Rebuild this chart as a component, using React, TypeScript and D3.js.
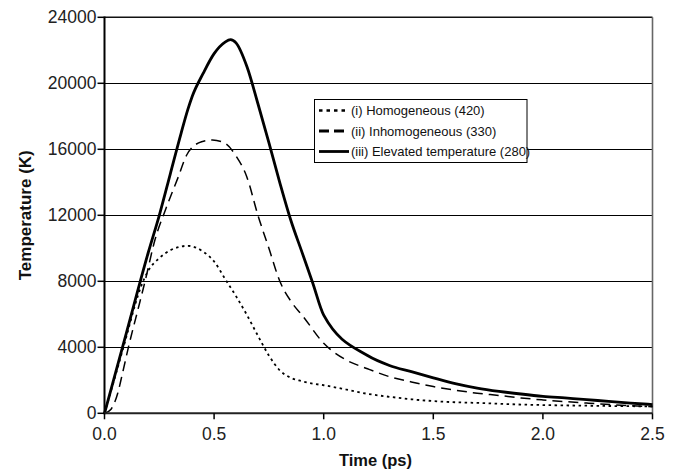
import React from "react";
import * as d3 from "d3";

const yTicks = [0, 4000, 8000, 12000, 16000, 20000, 24000];
const xTicks = [0, 0.5, 1.0, 1.5, 2.0, 2.5];

const homTime = [0, 0.05, 0.1, 0.14, 0.17, 0.2, 0.25, 0.3, 0.38, 0.45, 0.5, 0.55, 0.6, 0.65, 0.7, 0.75, 0.8, 0.85, 0.9, 0.95, 1.0, 1.1, 1.2, 1.3, 1.4, 1.5, 1.6, 1.7, 1.8, 1.9, 2.0, 2.2, 2.4, 2.5];
const homTemp = [0, 2300, 4650, 6600, 7800, 8650, 9400, 9880, 10150, 9800, 9200, 8150, 7100, 5950, 4700, 3500, 2600, 2150, 1950, 1800, 1700, 1450, 1180, 1000, 850, 740, 670, 630, 580, 530, 500, 460, 430, 420];

const inhTime = [0, 0.03, 0.06, 0.08, 0.109, 0.15, 0.185, 0.23, 0.28, 0.337, 0.375, 0.443, 0.492, 0.55, 0.6, 0.649, 0.7, 0.75, 0.8, 0.85, 0.907, 1.0, 1.1, 1.2, 1.3, 1.4, 1.5, 1.6, 1.7, 1.8, 1.9, 2.0, 2.2, 2.4, 2.5];
const inhTemp = [0, 250, 1200, 2300, 4000, 6150, 8000, 10500, 12400, 14340, 15655, 16460, 16565, 16364, 15600, 14340, 12000, 10000, 8000, 6800, 5855, 4242, 3250, 2700, 2220, 1900, 1620, 1400, 1220, 1080, 930, 810, 620, 460, 400];

const eleTime = [0, 0.1, 0.2, 0.25, 0.3, 0.35, 0.38, 0.4, 0.45, 0.5, 0.55, 0.575, 0.6, 0.65, 0.7, 0.75, 0.8, 0.85, 0.9, 0.95, 1.0, 1.2, 1.3, 1.4, 1.5, 1.6, 1.7, 1.8, 1.9, 2.0, 2.1, 2.2, 2.3, 2.4, 2.5];
const eleTemp = [0, 4880, 9760, 12000, 14500, 17000, 18400, 19200, 20600, 21800, 22500, 22650, 22450, 21000, 18760, 16400, 13970, 11700, 9800, 7900, 5950, 3500, 2900, 2520, 2150, 1800, 1530, 1330, 1170, 1030, 930, 830, 720, 620, 530];

const seriesNames = ["(i) Homogeneous (420)", "(ii) Inhomogeneous (330)", "(iii) Elevated temperature (280)"];

const W = 675;
const H = 471;
const L = 104.5;
const R = 652.5;
const T = 17.3;
const B = 413.3;

export default function App() {
  const x = d3.scaleLinear().domain([0, 2.5]).range([L, R]);
  const y = d3.scaleLinear().domain([0, 24000]).range([B, T]);
  const line = d3
    .line<[number, number]>()
    .x((d) => x(d[0]))
    .y((d) => y(d[1]))
    .curve(d3.curveMonotoneX);

  const series = [
    { name: seriesNames[0], pts: homTime.map((t, i) => [t, homTemp[i]] as [number, number]), dash: "2.5,3.5", w: 1.8, lw: 2.6, ldash: "3.5,4" },
    { name: seriesNames[1], pts: inhTime.map((t, i) => [t, inhTemp[i]] as [number, number]), dash: "10,6", w: 1.5, lw: 2.8, ldash: "10,5" },
    { name: seriesNames[2], pts: eleTime.map((t, i) => [t, eleTemp[i]] as [number, number]), dash: "none", w: 2.8, lw: 2.8, ldash: "none" },
  ];

  const font = "'Liberation Sans', Arial, sans-serif";
  const legX = 314.5;
  const legY = 99.5;
  const legW = 212.5;
  const legH = 63;

  return (
    <svg width={W} height={H} style={{ position: "absolute", left: 0, top: 0, background: "#fff" }} fontFamily={font}>
      <rect x={0} y={0} width={W} height={H} fill="#fff" />
      {yTicks.slice(1, -1).map((v) => (
        <line key={v} x1={L} x2={R} y1={Math.round(y(v)) + 0.5} y2={Math.round(y(v)) + 0.5} stroke="#000" strokeWidth={1} />
      ))}
      <line x1={L} x2={R} y1={y(24000)} y2={y(24000)} stroke="#111" strokeWidth={1.6} />
      <line x1={R} x2={R} y1={T} y2={B} stroke="#666" strokeWidth={1.6} />
      {series.map((s) => (
        <path key={s.name} d={line(s.pts) || ""} fill="none" stroke="#000" strokeWidth={s.w} strokeDasharray={s.dash} strokeLinejoin="round" />
      ))}
      <line x1={L} x2={L} y1={T - 0.8} y2={B + 1} stroke="#000" strokeWidth={2} />
      <line x1={L - 1} x2={R} y1={B} y2={B} stroke="#222" strokeWidth={2} />
      {yTicks.map((v) => (
        <g key={v}>
          <line x1={L - 7} x2={L} y1={y(v)} y2={y(v)} stroke="#000" strokeWidth={1.5} />
          <text x={L - 8} y={y(v)} dy="0.35em" textAnchor="end" fontSize={17.5} fill="#222">
            {v}
          </text>
        </g>
      ))}
      {xTicks.map((v) => (
        <g key={v}>
          <line x1={x(v)} x2={x(v)} y1={B} y2={B + 6} stroke="#000" strokeWidth={1.5} />
          <text x={x(v)} y={B + 27} textAnchor="middle" fontSize={17.5} fill="#222">
            {v.toFixed(1)}
          </text>
        </g>
      ))}
      <text x={(L + R) / 2 - 3} y={466} textAnchor="middle" fontSize={16.5} fontWeight="bold" fill="#111">
        Time (ps)
      </text>
      <text transform={`translate(31,${(T + B) / 2}) rotate(-90)`} textAnchor="middle" fontSize={17} fontWeight="bold" fill="#111">
        Temperature (K)
      </text>
      <rect x={legX} y={legY} width={legW} height={legH} fill="#fff" stroke="#000" strokeWidth={1} />
      {series.map((s, i) => {
        const cy = 110.5 + i * 20.5;
        return (
          <g key={s.name}>
            <line x1={319} x2={349} y1={cy} y2={cy} stroke="#000" strokeWidth={s.lw} strokeDasharray={s.ldash} />
            <text x={351} y={cy} dy="0.36em" fontSize={13} fill="#111">
              {s.name}
            </text>
          </g>
        );
      })}
    </svg>
  );
}
